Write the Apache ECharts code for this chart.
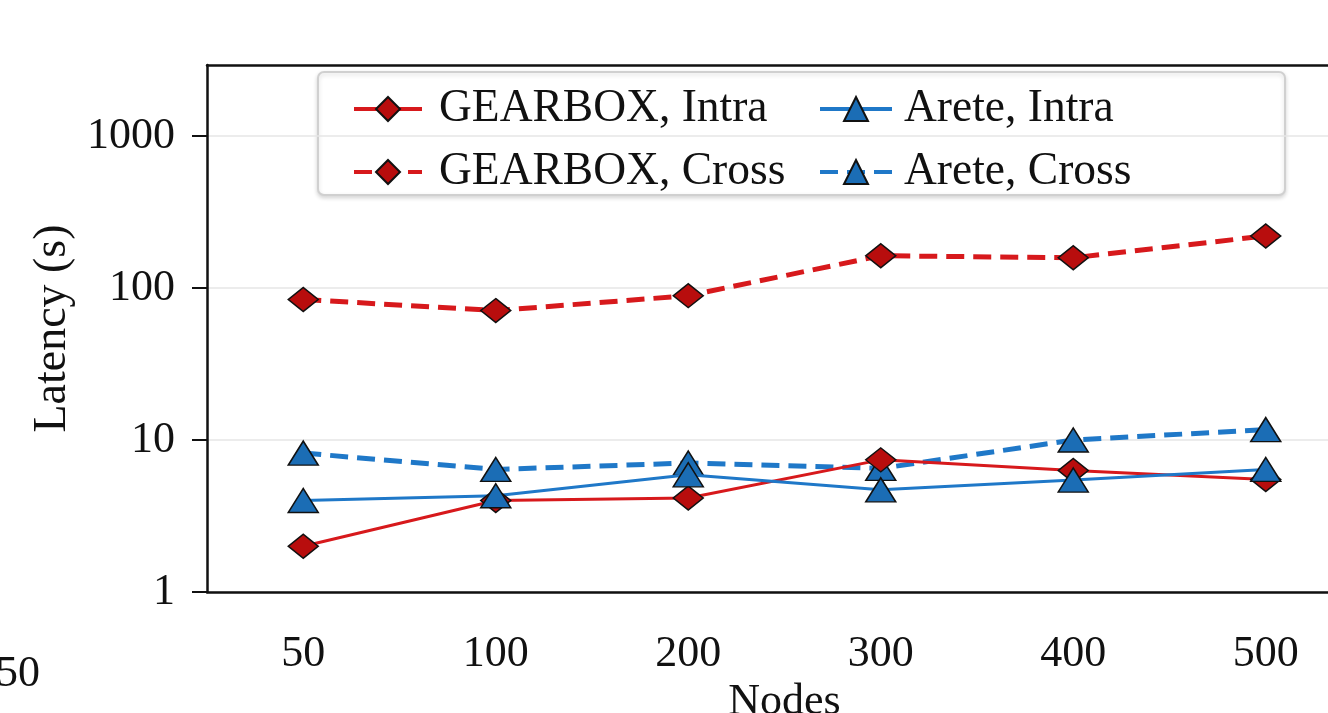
<!DOCTYPE html>
<html>
<head>
<meta charset="utf-8">
<script src="https://cdn.jsdelivr.net/npm/echarts@6/dist/echarts.min.js"></script>
<style>
html,body{margin:0;padding:0;background:#fff;}
#chart{width:1328px;height:713px;}
</style>
</head>
<body>
<div id="chart"></div>
<script>
const categories = ['50', '100', '200', '300', '400', '500'];
const gearboxIntra = [2.0, 4.0, 4.15, 7.4, 6.3, 5.5];
const gearboxCross = [84, 71, 89, 163, 158, 220];
const areteIntra = [4.0, 4.3, 5.9, 4.7, 5.45, 6.4];
const areteCross = [8.2, 6.4, 7.05, 6.5, 10.0, 11.7];
const yTicks = [1, 10, 100, 1000];

const FONT = 'Liberation Serif';
const RED_LINE = '#d7191c';
const RED_FILL = '#b80d0d';
const BLUE_LINE = '#1f78c8';
const BLUE_FILL = '#1b6db5';

const chart = echarts.init(document.getElementById('chart'));

function mk(name, data, color, fill, symbol, dashed) {
  return {
    name: name,
    type: 'line',
    data: data,
    symbol: symbol,
    symbolSize: [30, 24],
    showAllSymbol: true,
    lineStyle: { color: color, width: dashed ? 5 : 3, type: dashed ? [18, 9] : 'solid' },
    itemStyle: { color: fill, borderColor: '#111', borderWidth: 1.5 },
    emphasis: { disabled: true },
    z: dashed ? 2 : 3
  };
}

const legendText = { fontFamily: FONT, fontSize: 45.5, color: '#111', lineHeight: 44 };

chart.setOption({
  animation: false,
  backgroundColor: '#fff',
  grid: { left: 207, right: -34, top: 65, bottom: 121, outerBoundsMode: 'none', containLabel: false, show: false },
  graphic: [
    { type: 'rect', z: 0, shape: { x: 318, y: 72, width: 967, height: 123, r: 6 },
      style: { fill: '#fff', stroke: '#d0d0d0', lineWidth: 2, shadowBlur: 4, shadowColor: 'rgba(0,0,0,0.15)', shadowOffsetY: 2 } },
    { type: 'text', left: -4, top: 652, style: { text: '50', font: '44px "Liberation Serif"', fill: '#111' } }
  ],
  legend: [
    { orient: 'vertical', left: 352, top: 86, itemWidth: 68, itemHeight: 30, itemGap: 17, padding: 0,
      data: ['GEARBOX, Intra', 'GEARBOX, Cross'],
      lineStyle: { width: 4 },
      textStyle: Object.assign({ padding: [0, 0, 0, 12] }, legendText) },
    { orient: 'vertical', left: 818, top: 86, itemWidth: 72, itemHeight: 30, itemGap: 17, padding: 0,
      data: ['Arete, Intra', 'Arete, Cross'],
      lineStyle: { width: 4 },
      textStyle: Object.assign({ padding: [0, 0, 0, 7] }, legendText) }
  ],
  xAxis: [{
    type: 'category',
    data: categories,
    boundaryGap: true,
    name: 'Nodes',
    nameLocation: 'middle',
    nameGap: 80,
    nameTextStyle: { fontFamily: FONT, fontSize: 44, color: '#111' },
    axisLine: { lineStyle: { color: '#111', width: 2.5 } },
    axisTick: { alignWithLabel: true, length: 12, lineStyle: { color: '#111', width: 2 } },
    axisLabel: { fontFamily: FONT, fontSize: 44, color: '#111', margin: 40 },
    splitLine: { show: false }
  }, {
    type: 'category',
    data: categories,
    position: 'top',
    boundaryGap: true,
    axisLine: { show: true, lineStyle: { color: '#111', width: 2.5 } },
    axisTick: { show: false },
    axisLabel: { show: false },
    splitLine: { show: false }
  }],
  yAxis: {
    type: 'log',
    logBase: 10,
    min: 1,
    max: 2930,
    name: 'Latency (s)',
    nameLocation: 'middle',
    nameGap: 116,
    nameTextStyle: { fontFamily: FONT, fontSize: 46, color: '#111' },
    axisLine: { show: true, lineStyle: { color: '#111', width: 2.5 } },
    axisTick: { show: true, length: 15, customValues: yTicks, lineStyle: { color: '#111', width: 2 } },
    axisLabel: { fontFamily: FONT, fontSize: 44, color: '#111', margin: 32, customValues: yTicks,
                 formatter: function (v) { return String(Math.round(v)); } },
    splitLine: { show: true, lineStyle: { color: '#e6e6e6', width: 1.5 } }
  },
  series: [
    mk('GEARBOX, Intra', gearboxIntra, RED_LINE, RED_FILL, 'diamond', false),
    mk('GEARBOX, Cross', gearboxCross, RED_LINE, RED_FILL, 'diamond', true),
    mk('Arete, Intra', areteIntra, BLUE_LINE, BLUE_FILL, 'triangle', false),
    mk('Arete, Cross', areteCross, BLUE_LINE, BLUE_FILL, 'triangle', true)
  ]
});
</script>
</body>
</html>
